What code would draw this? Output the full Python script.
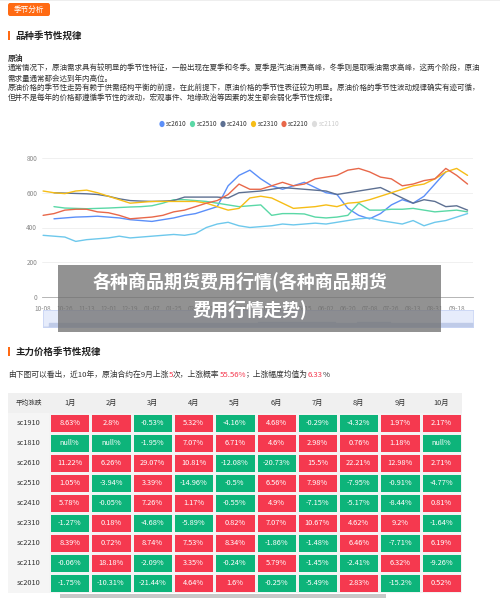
import numpy as np, pandas as pd, matplotlib
matplotlib.use("Agg")
import matplotlib.pyplot as plt, seaborn as sns
from matplotlib.patches import Rectangle, FancyBboxPatch
from matplotlib.colors import ListedColormap

sns.set_style("white")
plt.rcParams['font.family'] = ['Noto Sans CJK SC', 'DejaVu Sans']

nan = np.nan
steps = np.arange(40) * 0.5
xlabels = ["10-08","10-26","11-13","12-01","12-19","01-07","01-25","02-12","03-02","03-20",
           "04-07","04-25","05-15","06-02","06-20","07-08","07-26","08-13","08-31","09-18"]
series_names = ["sc2610","sc2510","sc2410","sc2310","sc2210","sc2010"]
sc2610 = [nan,450,455,460,462,465,460,455,445,440,435,445,455,470,480,500,520,640,700,730,680,640,620,640,660,630,600,590,510,470,450,480,530,560,540,580,650,720,nan,nan]
sc2510 = [nan,520,512,510,508,510,512,515,518,520,525,540,560,560,555,550,540,530,520,525,530,470,480,480,478,460,455,460,470,540,500,500,505,505,510,500,490,495,500,490]
sc2410 = [nan,600,598,596,594,590,580,565,555,552,550,552,555,575,575,575,575,570,600,605,610,620,630,625,620,615,610,590,600,610,620,630,600,570,540,560,550,520,525,500]
sc2310 = [610,600,595,610,615,600,580,560,540,545,550,550,550,550,550,540,520,500,510,570,580,570,540,510,515,520,530,520,540,545,560,580,600,620,640,650,680,720,740,700]
sc2210 = [470,480,500,505,505,490,485,470,450,455,460,470,490,500,520,540,555,590,650,620,620,640,660,640,650,680,690,700,730,740,720,690,680,640,650,670,680,740,700,650]
sc2010 = [355,350,345,320,330,335,340,350,340,345,350,355,360,355,365,400,420,430,410,400,405,410,420,415,420,425,420,430,440,450,455,440,430,420,440,410,430,440,460,480]
colors = ["#5B8FF9","#5AD8A6","#5D7092","#F6BD16","#E8684A","#6DC8EC"]

months = ["1月","2月","3月","4月","5月","6月","7月","8月","9月","10月"]
contracts = ["sc1910","sc1810","sc2610","sc2510","sc2410","sc2310","sc2210","sc2110","sc2010"]
table = [
 [8.63,2.8,-0.53,5.32,-4.16,4.68,-0.29,-4.32,1.97,2.17],
 [None,None,-1.95,7.07,6.71,4.6,2.98,0.76,1.18,None],
 [11.22,6.26,29.07,10.81,-12.08,-20.73,15.5,22.21,12.98,2.71],
 [1.05,-3.94,3.39,-14.96,-0.5,6.56,7.98,-7.95,-0.91,-4.77],
 [5.78,-0.05,7.26,1.17,-0.55,4.9,-7.15,-5.17,-8.44,0.81],
 [-1.27,0.18,-4.68,-5.89,0.82,7.07,10.67,4.62,9.2,-1.64],
 [8.39,0.72,8.74,7.53,8.34,-1.86,-1.48,6.46,-7.71,6.19],
 [-0.06,18.18,-2.09,3.35,-0.24,5.79,-1.45,-2.41,6.32,-9.26],
 [-1.75,-10.31,-21.44,4.64,1.6,-0.25,-5.49,2.83,-15.2,0.52],
]

W, H = 500, 598
fig = plt.figure(figsize=(5, 5.98), dpi=100)
fig.patch.set_facecolor("white")
def fx(x): return x / W
def fy(y): return 1 - y / H
def rect(x, y, w, h, **kw):
    fig.patches.append(Rectangle((fx(x), fy(y + h)), w / W, h / H, transform=fig.transFigure, **kw))

fig.patches.append(FancyBboxPatch((fx(8), fy(16)), 42/W, 13/H, boxstyle="round,pad=0,rounding_size=0.004",
                                  transform=fig.transFigure, fc="#FF6A13", ec="none"))
fig.text(fx(29), fy(9.5), "季节分析", color="white", fontsize=5.5, ha="center", va="center")
rect(0, 0, 500, 1.2, fc="#EEEEEE", ec="none")
rect(8, 31, 2.2, 9, fc="#FF6A13", ec="none")
fig.text(fx(15), fy(35.5), "品种季节性规律", fontsize=6.8, weight="bold", va="center", color="#222")
fig.text(fx(8), fy(58), "原油", fontsize=5.6, weight="bold", va="center", color="#333")
lines = ["通常情况下，原油需求具有较明显的季节性特征，一般出现在夏季和冬季。夏季是汽油消费高峰，冬季则是取暖油需求高峰，这两个阶段，原油",
         "需求量通常都会达到年内高位。",
         "原油价格的季节性走势有赖于供需结构平衡的前提，在此前提下，原油价格的季节性表征较为明显。原油价格的季节性波动规律确实有迹可循，",
         "但并不是每年的价格都遵循季节性的波动，宏观事件、地缘政治等因素的发生都会弱化季节性规律。"]
for i, l in enumerate(lines):
    fig.text(fx(8), fy(68.5 + i * 10), l, fontsize=5.45, va="center", color="#333")

leg = series_names[:5] + ["sc2110"]
lx = 162
for i, n in enumerate(leg):
    c = colors[i] if i < 5 else "#DDDDDD"
    fig.patches.append(matplotlib.patches.Circle((fx(lx), fy(124)), 2.6/W, transform=fig.transFigure, fc=c, ec="none"))
    fig.text(fx(lx + 4), fy(124), n, fontsize=4.6, va="center", color="#333" if i < 5 else "#CCCCCC")
    lx += 30.5

rows = []
for n, v in zip(series_names, [sc2610, sc2510, sc2410, sc2310, sc2210, sc2010]):
    for x, y in zip(steps, v):
        rows.append((n, x, y))
df = pd.DataFrame(rows, columns=["s", "x", "y"]).dropna()
ax = fig.add_axes([fx(42), fy(297), 431/W, 139/H])
sns.lineplot(data=df, x="x", y="y", hue="s", palette=colors, hue_order=series_names, ax=ax, lw=1.0, legend=False)
ax.set_xlim(-0.05, 19.75); ax.set_ylim(0, 800)
ax.set_yticks([0, 200, 400, 600, 800])
ax.set_xticks(range(20)); ax.set_xticklabels(xlabels)
ax.tick_params(labelsize=4.6, colors="#888", length=2, width=0.5)
ax.tick_params(axis="y", length=0)
ax.grid(axis="y", color="#EEEEEE", lw=0.6)
for s in ["top", "right", "left"]: ax.spines[s].set_visible(False)
ax.spines["bottom"].set_color("#AAAAAA"); ax.spines["bottom"].set_linewidth(0.6)
ax.set_xlabel(""); ax.set_ylabel("")

sax = fig.add_axes([fx(43), fy(327), 430/W, 17/H])
sax.set_xlim(0, 19.5); sax.set_ylim(0, 800)
sax.set_facecolor("#E6ECFB")
sax.fill_between(steps, 0, np.nan_to_num(np.array(sc2410, dtype=float), nan=0) * 0.35, color="#BFCBE8", step="mid")
sax.set_xticks([]); sax.set_yticks([])
for s in sax.spines.values(): s.set_color("#C9D5F5"); s.set_linewidth(0.6)

rect(58, 265, 383, 67, fc="#6E6E6E", ec="none", alpha=0.75, zorder=10)
fig.text(fx(240), fy(281), "各种商品期货费用行情(各种商品期货", fontsize=13, weight="bold", color="white", ha="center", va="center", zorder=11)
fig.text(fx(250), fy(309), "费用行情走势)", fontsize=13, weight="bold", color="white", ha="center", va="center", zorder=11)

rect(8, 347, 2.2, 9, fc="#FF6A13", ec="none")
fig.text(fx(15), fy(351.5), "主力价格季节性规律", fontsize=6.8, weight="bold", va="center", color="#222")
parts = [("由下图可以看出，近10年，原油合约在9月上涨", "#333"), ("5", "#F5394F"), ("次，上涨概率", "#333"),
         ("55.56%", "#F5394F"), ("；上涨幅度均值为", "#333"), ("6.33", "#F5394F"), ("%", "#333")]
fig.canvas.draw()
r = fig.canvas.get_renderer()
xp = fx(8)
for t, c in parts:
    tt = fig.text(xp, fy(375), t, fontsize=5.6, va="center", color=c)
    bb = tt.get_window_extent(renderer=r)
    xp += bb.width / (W)

red, green = "#F5394F", "#0DB47A"
vals = np.array([[np.nan if v is None else v for v in row] for row in table])
sign = np.where(np.isnan(vals), 0, (vals > 0).astype(int))
annot = np.array([["null%" if v is None else f"{v:g}%" for v in row] for row in table])
hax = fig.add_axes([fx(49), fy(593), 413/W, 180/H])
sns.heatmap(pd.DataFrame(sign, index=contracts, columns=months), cmap=ListedColormap([green, red]), vmin=0, vmax=1,
            annot=annot, fmt="", cbar=False, linewidths=1, linecolor="#F3F3F3",
            annot_kws={"fontsize": 5.3, "color": "white"}, ax=hax)
hax.set_xticks([]); hax.set_yticks([]); hax.set_xlabel(""); hax.set_ylabel("")
rect(8, 393, 454, 20, fc="#F0F0F0", ec="none", zorder=-1)
rect(8, 413, 41, 180, fc="#F5F5F5", ec="none", zorder=-1)
fig.text(fx(28.5), fy(403), "平均涨跌", fontsize=4.8, ha="center", va="center", color="#333")
cw = 413 / 10
for i, m in enumerate(months):
    fig.text(fx(49 + cw * (i + 0.5)), fy(403), m, fontsize=5.3, ha="center", va="center", color="#333")
for j, c in enumerate(contracts):
    fig.text(fx(28.5), fy(413 + 20 * (j + 0.5)), c, fontsize=5.3, ha="center", va="center", color="#333")
rect(60, 594, 326, 4, fc="#C8C8C8", ec="none")

fig.savefig("out.png", dpi=100)
